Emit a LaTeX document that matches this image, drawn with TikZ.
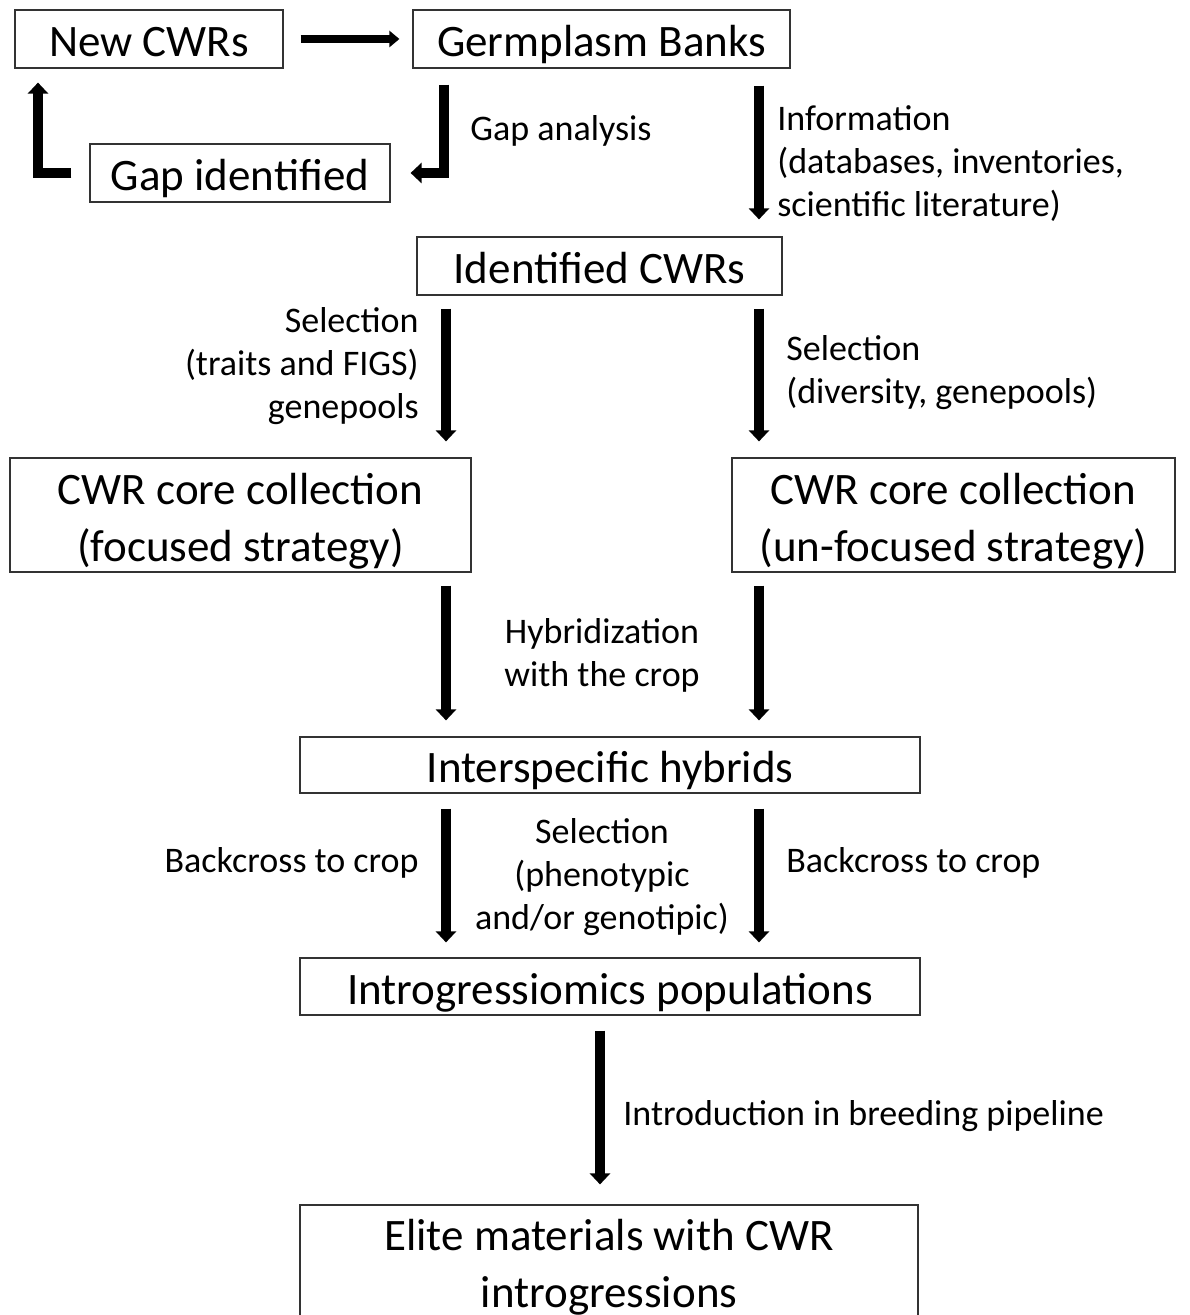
\documentclass[tikz,border=0pt]{standalone}
\usepackage{fontspec}
\setmainfont{Carlito}
\usetikzlibrary{arrows.meta}
\begin{document}
\begin{tikzpicture}[x=0.5pt,y=-0.5pt,
  box/.style={draw=black!80, line width=0.6pt, inner sep=0pt, align=center,
    font=\fontsize{22.5}{28.5}\selectfont},
  onebox/.style={box, text height=17.5pt, text depth=0pt},
  lbl/.style={inner sep=0pt, font=\fontsize{18}{21.5}\selectfont},
  fat/.style={line width=5pt, line cap=butt, line join=miter,
    -{Triangle[width=10pt,length=5.5pt]}},
  fath/.style={line width=4pt, line cap=butt, line join=miter,
    -{Triangle[width=8pt,length=5pt]}}]
\clip (0,0) rectangle (1189,1315);
\fill[white] (0,0) rectangle (1189,1315);
% nodes
\node[onebox, minimum width=134pt, minimum height=29pt] (newc) at (149,39) {New CWRs};
\node[onebox, minimum width=188.5pt, minimum height=29pt] (germ) at (601.5,39) {Germplasm Banks};
\node[onebox, minimum width=150pt, minimum height=29pt] (gapid) at (240,173) {Gap identified};
\node[onebox, minimum width=182.5pt, minimum height=29pt] (ident) at (599.5,266) {Identified CWRs};
\node[box, minimum width=230.5pt, minimum height=57pt] (coreL) at (240.5,515) {\rule{0pt}{22pt}CWR core collection\\(focused strategy)};
\node[box, minimum width=221.5pt, minimum height=57pt] (coreR) at (953.5,515) {\rule{0pt}{22pt}CWR core collection\\(un-focused strategy)};
\node[onebox, minimum width=310pt, minimum height=28pt] (hyb) at (610,765) {Interspecific hybrids};
\node[onebox, minimum width=310pt, minimum height=28.5pt] (intro) at (610,986.5) {Introgressiomics populations};
\node[box, minimum width=309pt, minimum height=60pt] (elite) at (609,1265) {\rule{0pt}{18pt}Elite materials with CWR\\introgressions};
% x positions of arrows
\coordinate (cL) at (446,0);
\coordinate (cR) at (759,0);
\coordinate (cG) at (444,0);
\coordinate (cX) at (38,0);
\coordinate (cM) at (600,0);
% connectors
\draw[fath, shorten <=8.5pt, shorten >=6.5pt] (newc.east) -- (germ.west);
\draw[fat, shorten <=8pt, shorten >=10pt] (germ.south -| cG) |- (gapid.east);
\draw[fat, shorten <=9pt, shorten >=7pt] (gapid.west) -| (newc.south -| cX);
\draw[fat, shorten <=8.5pt, shorten >=8.5pt] (germ.south -| cR) -- (ident.north -| cR);
\draw[fat, shorten <=6.5pt, shorten >=8pt] (ident.south -| cL) -- (coreL.north -| cL);
\draw[fat, shorten <=6.5pt, shorten >=8pt] (ident.south -| cR) -- (coreR.north -| cR);
\draw[fat, shorten <=6.5pt, shorten >=8pt] (coreL.south -| cL) -- (hyb.north -| cL);
\draw[fat, shorten <=6.5pt, shorten >=8pt] (coreR.south -| cR) -- (hyb.north -| cR);
\draw[fat, shorten <=7.5pt, shorten >=7.5pt] (hyb.south -| cL) -- (intro.north -| cL);
\draw[fat, shorten <=7.5pt, shorten >=7.5pt] (hyb.south -| cR) -- (intro.north -| cR);
\draw[fat, shorten <=7.5pt, shorten >=10pt] (intro.south -| cM) -- (elite.north -| cM);
% labels
\node[lbl, anchor=west] (lgap) at (470,131) {Gap analysis};
\node[lbl, anchor=west, align=left] (linfo) at (777,164) {Information\\(databases, inventories,\\scientific literature)};
\node[lbl, anchor=east, align=right] (lselL) at (419,366) {Selection\\(traits and FIGS)\\genepools};
\node[lbl, anchor=west, align=left] (lselR) at (786,373) {Selection\\(diversity, genepools)};
\node[lbl, align=center] (lhyb) at (602,655) {Hybridization\\with the crop};
\node[lbl, anchor=east] (lbcL) at (419,863) {Backcross to crop};
\node[lbl, anchor=west] (lbcR) at (786,863) {Backcross to crop};
\node[lbl, align=center] (lsel) at (602,877) {Selection\\(phenotypic\\and/or genotipic)};
\node[lbl, anchor=west] (lintro) at (623,1116) {Introduction in breeding pipeline};
\end{tikzpicture}
\end{document}
